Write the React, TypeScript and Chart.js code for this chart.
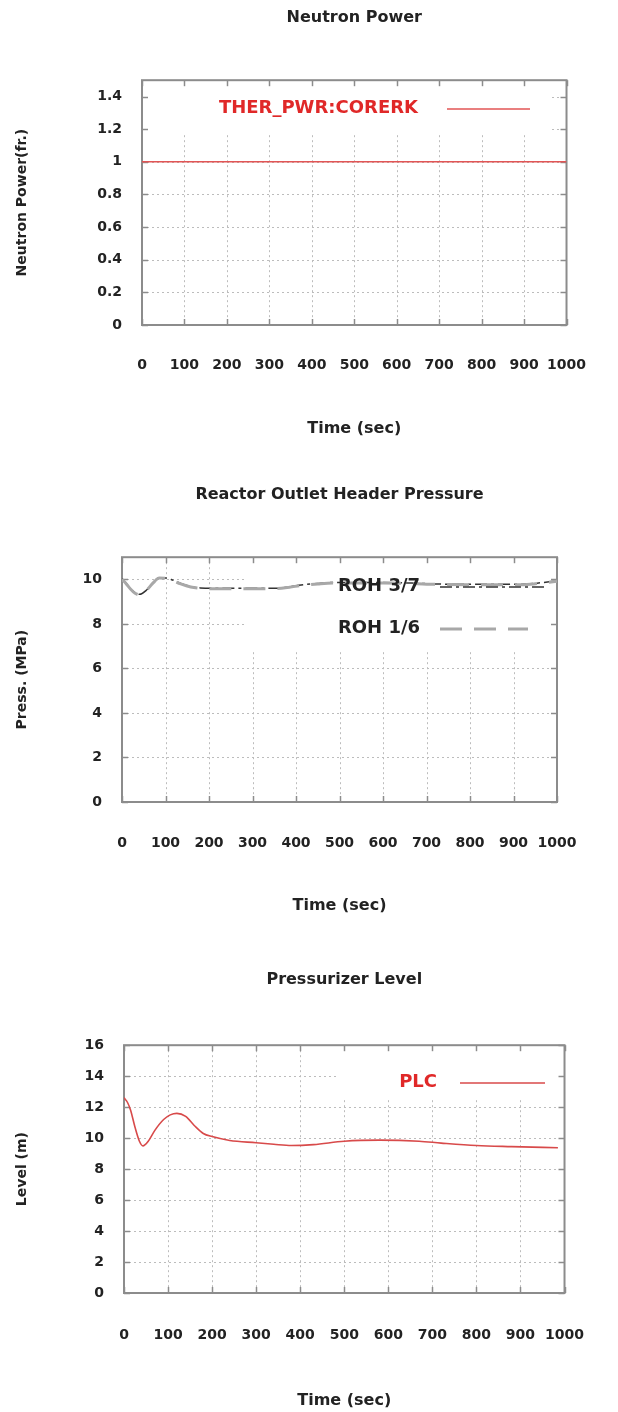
import React, { useEffect, useRef } from "react";
import { Chart, registerables } from "chart.js";
Chart.register(...registerables);

const FONT = "'DejaVu Sans', 'Liberation Sans', sans-serif";
const TEXT = "#222222";

const TIME_TICKS = [0, 100, 200, 300, 400, 500, 600, 700, 800, 900, 1000];

const NP_TIME = [0, 1000];
const NP_VALUES = [1, 1];
const NP_Y_TICKS = [0, 0.2, 0.4, 0.6, 0.8, 1, 1.2, 1.4];

const ROH37_TIME = [0, 10, 20, 30, 41, 55, 70, 86, 100, 113, 135, 158, 180, 204, 250, 285, 320, 357, 385, 412, 450, 484, 550, 600, 665, 719, 800, 900, 946, 1000];
const ROH37_VALUES = [10.03, 9.82, 9.58, 9.4, 9.33, 9.5, 9.83, 10.08, 10.07, 10.0, 9.82, 9.68, 9.62, 9.6, 9.6, 9.6, 9.6, 9.61, 9.67, 9.75, 9.82, 9.86, 9.86, 9.86, 9.84, 9.8, 9.78, 9.78, 9.82, 9.94];
const ROH16_TIME = [0, 10, 20, 30, 41, 55, 70, 86, 100, 113, 135, 158, 180, 204, 250, 285, 320, 357, 385, 412, 450, 484, 550, 600, 665, 719, 800, 900, 946, 1000];
const ROH16_VALUES = [10.01, 9.8, 9.56, 9.38, 9.31, 9.48, 9.81, 10.06, 10.05, 9.98, 9.8, 9.66, 9.6, 9.58, 9.58, 9.58, 9.58, 9.59, 9.65, 9.73, 9.8, 9.84, 9.84, 9.84, 9.82, 9.78, 9.76, 9.76, 9.8, 9.92];
const PRESS_Y_TICKS = [0, 2, 4, 6, 8, 10];

const PLC_TIME = [0, 8, 15, 25, 35, 43, 55, 70, 90, 105, 120, 140, 160, 180, 200, 240, 300, 340, 380, 430, 500, 580, 670, 720, 800, 880, 985];
const PLC_VALUES = [12.6, 12.3, 11.8, 10.7, 9.8, 9.5, 9.8, 10.5, 11.2, 11.5, 11.6, 11.4, 10.8, 10.3, 10.1, 9.85, 9.7, 9.6, 9.52, 9.58, 9.8, 9.87, 9.8, 9.68, 9.52, 9.45, 9.38];
const LEVEL_Y_TICKS = [0, 2, 4, 6, 8, 10, 12, 14, 16];

const pts = (xs: number[], ys: number[]) => xs.map((x, i) => ({ x, y: ys[i] }));

type LegendItem = {
  text: string; textColor: string; textRight: number; y: number;
  x1: number; x2: number; color: string; width: number; dash: number[];
};

const gnuplotPlugin = {
  id: "gnuplotFrame",
  beforeDatasetsDraw(chart: any, _args: any, opts: any) {
    const { ctx, chartArea: a, scales } = chart;
    const x = scales.x, y = scales.y;
    ctx.save();
    ctx.strokeStyle = "#bcbcbc";
    ctx.lineWidth = 1;
    ctx.setLineDash([2, 3]);
    x.ticks.forEach((t: any) => {
      const px = Math.round(x.getPixelForValue(t.value)) + 0.5;
      if (px <= a.left + 2 || px >= a.right - 2) return;
      ctx.beginPath(); ctx.moveTo(px, a.top); ctx.lineTo(px, a.bottom); ctx.stroke();
    });
    y.ticks.forEach((t: any) => {
      const py = Math.round(y.getPixelForValue(t.value)) + 0.5;
      if (py <= a.top + 2 || py >= a.bottom - 2) return;
      ctx.beginPath(); ctx.moveTo(a.left, py); ctx.lineTo(a.right, py); ctx.stroke();
    });
    ctx.setLineDash([]);
    if (opts.box) {
      const b = opts.box;
      ctx.fillStyle = "#ffffff";
      ctx.fillRect(b.x1, b.y1, b.x2 - b.x1, b.y2 - b.y1);
    }
    ctx.strokeStyle = "#8c8c8c";
    ctx.lineWidth = 2;
    ctx.strokeRect(a.left, a.top, a.right - a.left, a.bottom - a.top);
    ctx.lineWidth = 1.5;
    const tl = 6;
    x.ticks.forEach((t: any) => {
      const px = Math.round(x.getPixelForValue(t.value)) + 0.5;
      ctx.beginPath(); ctx.moveTo(px, a.bottom); ctx.lineTo(px, a.bottom - tl); ctx.stroke();
      ctx.beginPath(); ctx.moveTo(px, a.top); ctx.lineTo(px, a.top + tl); ctx.stroke();
    });
    y.ticks.forEach((t: any) => {
      const py = Math.round(y.getPixelForValue(t.value)) + 0.5;
      ctx.beginPath(); ctx.moveTo(a.left, py); ctx.lineTo(a.left + tl, py); ctx.stroke();
      ctx.beginPath(); ctx.moveTo(a.right, py); ctx.lineTo(a.right - tl, py); ctx.stroke();
    });
    ctx.restore();
  },
  afterDatasetsDraw(chart: any, _args: any, opts: any) {
    const { ctx } = chart;
    ctx.save();
    (opts.legend || []).forEach((it: LegendItem) => {
      ctx.font = `bold 18px ${FONT}`;
      ctx.fillStyle = it.textColor;
      ctx.textAlign = "right";
      ctx.textBaseline = "middle";
      ctx.fillText(it.text, it.textRight, it.y);
      ctx.strokeStyle = it.color;
      ctx.lineWidth = it.width;
      ctx.setLineDash(it.dash);
      ctx.beginPath(); ctx.moveTo(it.x1, it.y + 1); ctx.lineTo(it.x2, it.y + 1); ctx.stroke();
    });
    ctx.restore();
  },
};

type Spec = {
  top: number; height: number;
  title: string; titleTop: number; titleBottom: number;
  yTitle: string; xTitle: string;
  left: number; right: number; xHeight: number; xTitlePad: number; xTickPad: number;
  yMax: number; yTicks: number[];
  datasets: any[];
  box: { x1: number; y1: number; x2: number; y2: number };
  legend: LegendItem[];
};

function makeConfig(s: Spec): any {
  const tickFont = { family: FONT, size: 14, weight: "bold" as const, lineHeight: 1.2 };
  const bigFont = { family: FONT, size: 16, weight: "bold" as const, lineHeight: 1.2 };
  return {
    type: "line",
    data: { datasets: s.datasets },
    plugins: [gnuplotPlugin],
    options: {
      responsive: false,
      animation: false,
      events: [],
      layout: { padding: { left: 0, right: 618 - s.right, top: 0, bottom: 0 } },
      plugins: {
        legend: { display: false },
        tooltip: { enabled: false },
        title: {
          display: true, text: s.title, fullSize: false, color: TEXT, font: bigFont,
          padding: { top: s.titleTop, bottom: s.titleBottom },
        },
        gnuplotFrame: { box: s.box, legend: s.legend },
      },
      scales: {
        x: {
          type: "linear", min: 0, max: 1000,
          grid: { display: false, drawTicks: false }, border: { display: false },
          afterBuildTicks: (sc: any) => { sc.ticks = TIME_TICKS.map((v) => ({ value: v })); },
          afterFit: (sc: any) => { sc.height = s.xHeight; },
          ticks: { color: TEXT, font: tickFont, padding: s.xTickPad, maxRotation: 0, autoSkip: false, callback: (v: any) => String(v) },
          title: { display: true, text: s.xTitle, color: TEXT, font: bigFont, padding: { top: 0, bottom: s.xTitlePad } },
        },
        y: {
          type: "linear", min: 0, max: s.yMax,
          grid: { display: false, drawTicks: false }, border: { display: false },
          afterBuildTicks: (sc: any) => { sc.ticks = s.yTicks.map((v) => ({ value: v })); },
          afterFit: (sc: any) => { sc.width = s.left; },
          ticks: { color: TEXT, font: tickFont, padding: 20, autoSkip: false, callback: (v: any) => String(v) },
          title: { display: true, text: s.yTitle, color: TEXT, font: tickFont, padding: { top: 14, bottom: 0 } },
        },
      },
    },
  };
}

const SPECS: Spec[] = [
  {
    top: 0, height: 455,
    title: "Neutron Power", titleTop: 8, titleBottom: 53,
    yTitle: "Neutron Power(fr.)", xTitle: "Time (sec)",
    left: 142, right: 570, xHeight: 130, xTitlePad: 17, xTickPad: 32,
    yMax: 1.5, yTicks: NP_Y_TICKS,
    datasets: [
      { label: "THER_PWR:CORERK", data: pts(NP_TIME, NP_VALUES), borderColor: "#e25555", borderWidth: 1.6, pointRadius: 0, fill: false },
    ],
    box: { x1: 143, y1: 81, x2: 552, y2: 133 },
    legend: [
      { text: "THER_PWR:CORERK", textColor: "#e02828", textRight: 418, y: 108, x1: 447, x2: 530, color: "#e25555", width: 1.6, dash: [] },
    ],
  },
  {
    top: 470, height: 455,
    title: "Reactor Outlet Header Pressure", titleTop: 15, titleBottom: 53,
    yTitle: "Press. (MPa)", xTitle: "Time (sec)",
    left: 122, right: 557, xHeight: 123, xTitlePad: 10, xTickPad: 33,
    yMax: 11, yTicks: PRESS_Y_TICKS,
    datasets: [
      { label: "ROH 1/6", data: pts(ROH16_TIME, ROH16_VALUES), borderColor: "#a8a8a8", borderWidth: 3, borderDash: [22, 12], pointRadius: 0, fill: false, cubicInterpolationMode: "monotone" },
      { label: "ROH 3/7", data: pts(ROH37_TIME, ROH37_VALUES), borderColor: "#333333", borderWidth: 1.5, borderDash: [12, 4, 3, 4], pointRadius: 0, fill: false, cubicInterpolationMode: "monotone" },
    ],
    box: { x1: 246, y1: 88, x2: 556, y2: 180 },
    legend: [
      { text: "ROH 3/7", textColor: "#222222", textRight: 420, y: 116, x1: 440, x2: 548, color: "#333333", width: 1.5, dash: [12, 4, 3, 4] },
      { text: "ROH 1/6", textColor: "#222222", textRight: 420, y: 158, x1: 440, x2: 528, color: "#a8a8a8", width: 3, dash: [22, 12] },
    ],
  },
  {
    top: 950, height: 462,
    title: "Pressurizer Level", titleTop: 20, titleBottom: 56,
    yTitle: "Level (m)", xTitle: "Time (sec)",
    left: 124, right: 568, xHeight: 119, xTitlePad: 2, xTickPad: 34,
    yMax: 16, yTicks: LEVEL_Y_TICKS,
    datasets: [
      { label: "PLC", data: pts(PLC_TIME, PLC_VALUES), borderColor: "#d84a4a", borderWidth: 1.6, pointRadius: 0, fill: false, cubicInterpolationMode: "monotone" },
    ],
    box: { x1: 336, y1: 96, x2: 567, y2: 150 },
    legend: [
      { text: "PLC", textColor: "#e02828", textRight: 437, y: 132, x1: 460, x2: 545, color: "#d84a4a", width: 1.6, dash: [] },
    ],
  },
];

function GnuChart({ spec }: { spec: Spec }) {
  const ref = useRef<HTMLCanvasElement>(null);
  useEffect(() => {
    const chart = new Chart(ref.current as HTMLCanvasElement, makeConfig(spec));
    return () => chart.destroy();
  }, [spec]);
  return (
    <div style={{ position: "absolute", left: 0, top: spec.top, width: 618, height: spec.height }}>
      <canvas ref={ref} width={618} height={spec.height} style={{ display: "block" }} />
    </div>
  );
}

export default function App() {
  return (
    <div style={{ position: "absolute", left: 0, top: 0, width: 618, height: 1412, background: "#fff" }}>
      {SPECS.map((s, i) => (
        <GnuChart key={i} spec={s} />
      ))}
    </div>
  );
}
